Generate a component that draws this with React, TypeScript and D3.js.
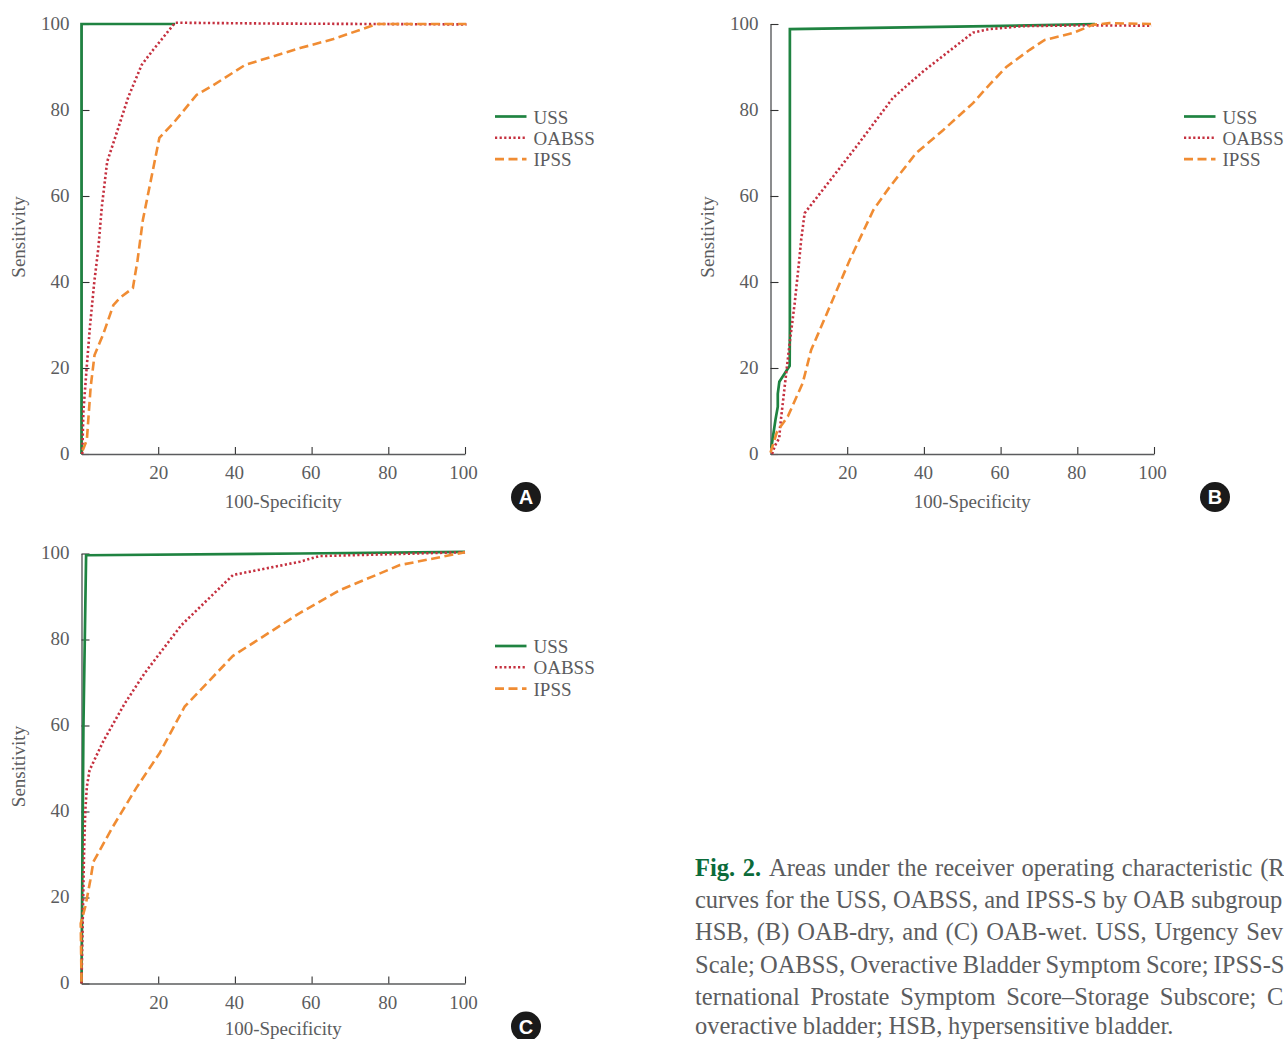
import React, { useEffect, useRef } from "react";
import * as d3 from "d3";

type Pt = [number, number];

const xTicks = [20, 40, 60, 80, 100];
const yTicks = [0, 20, 40, 60, 80, 100];
const seriesNames = ["USS", "OABSS", "IPSS"];

// panel A
const ussA: Pt[] = [[0, 0], [0, 100], [24.4, 100]];
const oabssA: Pt[] = [[0.2, 0], [0.5, 10], [1.3, 19.5], [2.2, 29.6], [3.3, 39.7], [4.4, 48], [5.3, 57.5], [6.7, 68], [8.3, 72.3], [12.2, 83], [15.7, 90.5], [18.7, 94], [24.4, 100.3], [50, 100.1], [76, 100], [100.4, 99.9]];
const ipssA: Pt[] = [[0.3, 0.8], [1.4, 3.3], [2.4, 15.7], [3.4, 23], [5.6, 27.7], [8.3, 34.6], [10, 36.3], [13.4, 38.6], [14.6, 45], [16, 54.4], [20.3, 73.5], [24, 77], [30, 83.5], [34.4, 85.8], [42.7, 90.5], [57, 94.4], [65.7, 96.5], [77, 100], [100.3, 100]];

// panel B
const ussB: Pt[] = [[0.2, 1.4], [1.3, 8], [1.9, 11], [1.9, 14], [2.3, 16.8], [5, 20.5], [5.05, 29.6], [5.05, 98.8], [57, 99.5], [84.6, 100]];
const oabssB: Pt[] = [[0.4, 0], [1.2, 2], [2.3, 3.7], [2.5, 6.3], [3.7, 15.7], [5, 25.8], [6.3, 35], [7.4, 44.3], [8, 49.8], [8.9, 56], [13.6, 61.4], [22.4, 71.5], [31.9, 82.8], [39.7, 88.9], [52.8, 98], [57, 98.8], [65.8, 99.5], [83, 99.7], [99.4, 99.6]];
const ipssB: Pt[] = [[0, 0.3], [1.7, 5.2], [4.5, 8.7], [8.4, 16.5], [10.6, 24.2], [12.3, 27.7], [20.6, 45], [26.8, 56.7], [31, 62], [38, 70], [45, 75.3], [52.8, 81.6], [57, 85.8], [61.5, 90], [67.6, 94], [71.5, 96.3], [78.9, 97.9], [84, 99.8], [88.4, 100.2], [99.4, 100]];

// panel C
const ussC: Pt[] = [[0, 0], [0.5, 59.7], [1.2, 99.6], [57, 100], [100, 100.4]];
const oabssC: Pt[] = [[0, 0], [0.7, 31.8], [1, 40.3], [1.4, 45.8], [2.1, 49.6], [5.6, 56.2], [11.2, 65], [16.4, 72.1], [26, 83.3], [39.5, 95], [57, 98.1], [62, 99.4], [100, 100.3]];
const ipssC: Pt[] = [[0, 0.4], [-0.2, 14], [1, 17.9], [2.3, 24], [3.1, 28.3], [8.2, 36.5], [14.3, 45.5], [20.4, 53.6], [26.9, 64.4], [39.5, 76.2], [57, 86.2], [67.4, 91.5], [83, 97.3], [100, 100.3]];

const captionHead = "Fig. 2.";
const captionLines = [
  "Areas under the receiver operating characteristic (R",
  "curves for the USS, OABSS, and IPSS-S by OAB subgroup",
  "HSB, (B) OAB-dry, and (C) OAB-wet. USS, Urgency Sev",
  "Scale; OABSS, Overactive Bladder Symptom Score; IPSS-S",
  "ternational Prostate Symptom Score\u2013Storage Subscore; C",
  "overactive bladder; HSB, hypersensitive bladder.",
];
// the printed caption is justified, so each row gets its own word gap
const captionWordGaps = [1.6, 0, 1.8, -1, 4.6, -0.5];

const panels = [
  { tag: "A", left: 81.5, top: 24, series: [ussA, oabssA, ipssA] },
  { tag: "B", left: 770.5, top: 24, series: [ussB, oabssB, ipssB] },
  { tag: "C", left: 81.5, top: 553.5, series: [ussC, oabssC, ipssC] },
];

const width = 1284;
const height = 1039;
const innerW = 383.5;
const innerH = 430;
const textColor = "#5b5c5e";
const serif = "'Liberation Serif', serif";
const colors = ["#1f8341", "#c5303f", "#f08c33"];
const dashes = [null, "2.2 2.4", "9 4.5"];
const strokes = [2.7, 2.6, 2.6];

export default function App() {
  const ref = useRef<SVGSVGElement>(null);

  useEffect(() => {
    const svg = d3.select(ref.current);
    svg.selectAll("*").remove();

    const xScale = d3.scaleLinear().domain([0, 100]).range([0, innerW]);
    const yScale = d3.scaleLinear().domain([0, 100]).range([innerH, 0]);
    const line = d3.line<Pt>().x(d => xScale(d[0])).y(d => yScale(d[1]));

    panels.forEach(p => {
      const g = svg.append("g").attr("transform", `translate(${p.left}, ${p.top})`);

      const yAxis = d3.axisLeft(yScale).tickValues(yTicks).tickSizeInner(-8).tickSizeOuter(0).tickPadding(12).tickFormat(d3.format("d"));
      const xAxis = d3.axisBottom(xScale).tickValues(xTicks).tickSizeInner(-7).tickSizeOuter(0).tickPadding(14).tickFormat(d3.format("d"));

      const gy = g.append("g").call(yAxis);
      const gx = g.append("g").attr("transform", `translate(0, ${innerH})`).call(xAxis);

      [gx, gy].forEach(a => {
        a.attr("font-family", serif).attr("font-size", 19);
        a.select(".domain").attr("stroke", textColor).attr("stroke-width", 1.4);
        a.selectAll(".tick line").attr("stroke", "#333").attr("stroke-width", 1.1);
        a.selectAll(".tick text").attr("fill", textColor);
      });
      gy.selectAll(".tick text").attr("dy", "0.28em");
      gx.selectAll(".tick text").attr("dy", "0.6em").attr("dx", (d: any) => (d === 100 ? -2 : d === 20 ? 0 : -1));

      // curves, USS first so the others sit on top
      p.series.forEach((s, i) => {
        g.append("path")
          .datum(s)
          .attr("d", line)
          .attr("fill", "none")
          .attr("stroke", colors[i])
          .attr("stroke-width", strokes[i])
          .attr("stroke-dasharray", dashes[i]);
      });

      // axis titles, C sits a little higher so it stays on the page
      g.append("text")
        .attr("x", innerW / 2 + 10)
        .attr("y", innerH + (p.tag === "C" ? 51 : 54))
        .attr("text-anchor", "middle")
        .attr("font-family", serif)
        .attr("font-size", 19)
        .attr("fill", textColor)
        .text("100-Specificity");
      g.append("text")
        .attr("transform", `translate(-57, ${innerH / 2 - 2}) rotate(-90)`)
        .attr("text-anchor", "middle")
        .attr("font-family", serif)
        .attr("font-size", 19)
        .attr("fill", textColor)
        .text("Sensitivity");

      // legend
      seriesNames.forEach((name, i) => {
        const ly = 92.5 + i * 21.3;
        g.append("line")
          .attr("x1", 413.5)
          .attr("x2", 445)
          .attr("y1", ly)
          .attr("y2", ly)
          .attr("stroke", colors[i])
          .attr("stroke-width", strokes[i])
          .attr("stroke-dasharray", dashes[i]);
        g.append("text")
          .attr("x", 452)
          .attr("y", ly + 7)
          .attr("font-family", serif)
          .attr("font-size", 19)
          .attr("fill", textColor)
          .text(name);
      });

      // panel badge
      g.append("circle").attr("cx", 444.5).attr("cy", 473).attr("r", 15).attr("fill", "#1a1a1a");
      g.append("text")
        .attr("x", 444.5)
        .attr("y", 480)
        .attr("text-anchor", "middle")
        .attr("font-family", "'Liberation Sans', sans-serif")
        .attr("font-weight", "bold")
        .attr("font-size", 20)
        .attr("fill", "#fff")
        .text(p.tag);
    });

    // caption, last row pulled up a touch so its descenders stay on the page
    const caption = svg.append("text").attr("font-family", serif).attr("font-size", 24.5).attr("fill", textColor);
    captionLines.forEach((t, i) => {
      const rowY = i === captionLines.length - 1 ? 1033.5 : 876 + i * 32.2;
      const row = caption.append("tspan").attr("x", 695).attr("y", rowY).attr("word-spacing", captionWordGaps[i]);
      if (i === 0) {
        row.append("tspan").attr("fill", "#0b6b3a").attr("font-weight", "bold").text(captionHead + " ");
      }
      row.append("tspan").text(t);
    });
  }, []);

  return <svg ref={ref} width={width} height={height} style={{ position: "absolute", left: 0, top: 0 }} />;
}
